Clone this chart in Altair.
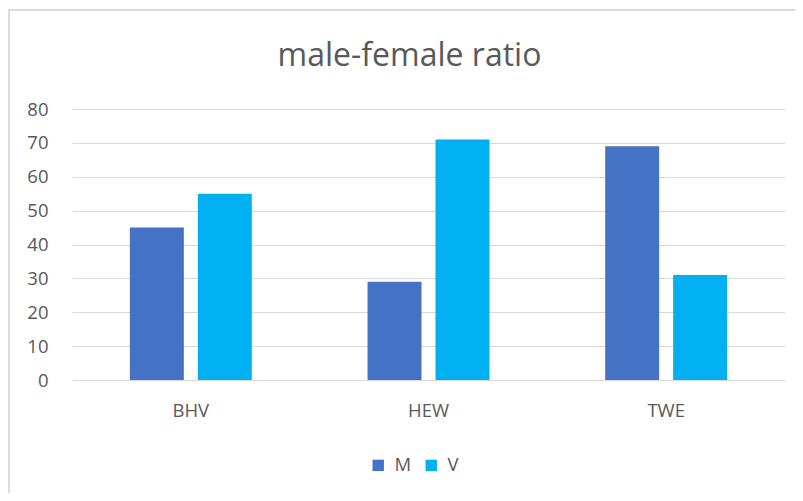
import altair as alt
import pandas as pd

categories = ["BHV", "HEW", "TWE"]
series = ["M", "V"]
m_values = [45, 29, 69]
v_values = [55, 71, 31]
y_ticks = [0, 10, 20, 30, 40, 50, 60, 70, 80]
colors = ["#4472C4", "#00B0F0"]

rows = []
for c, m, v in zip(categories, m_values, v_values):
    rows.append({"cat": c, "series": "M", "value": m})
    rows.append({"cat": c, "series": "V", "value": v})
df = pd.DataFrame(rows)

FONT = "Open Sans"
TXT = "#595959"
FS = 18.5

bars = alt.Chart(df).mark_bar().encode(
    x=alt.X("cat:N", sort=categories,
            scale=alt.Scale(paddingInner=0.487, paddingOuter=0.2435),
            axis=alt.Axis(title=None, labelAngle=0, ticks=False, domain=False,
                          labelPadding=21, labelFontSize=FS, labelColor=TXT,
                          labelFont=FONT, grid=False)),
    xOffset=alt.XOffset("series:N", sort=series,
                        scale=alt.Scale(paddingInner=0.206, paddingOuter=0)),
    y=alt.Y("value:Q", scale=alt.Scale(domain=[0, 80], nice=False),
            axis=alt.Axis(title=None, values=y_ticks, ticks=False, domain=False,
                          labelPadding=24, labelFontSize=FS, labelColor=TXT,
                          labelFont=FONT, gridColor="#D9D9D9", gridWidth=1.2)),
    color=alt.Color("series:N", sort=series,
                    scale=alt.Scale(domain=series, range=colors),
                    legend=alt.Legend(title=None, orient="none", direction="horizontal",
                                      legendX=297, legendY=347, symbolType="square",
                                      symbolSize=130, symbolStrokeWidth=0,
                                      labelFontSize=FS, labelColor=TXT, labelFont=FONT,
                                      columnPadding=10, labelOffset=7)),
)

border = alt.Chart(pd.DataFrame({"a": [0]})).mark_rect(
    fill=None, stroke="#D9D9D9", strokeWidth=1.8
).encode(
    x=alt.value(-63), x2=alt.value(760), y=alt.value(-99), y2=alt.value(430)
)

chart = alt.layer(border, bars).properties(
    width=713, height=271,
    background="white",
    autosize=alt.AutoSizeParams(type="none"),
    padding={"left": 64, "top": 101, "right": 10, "bottom": 113},
    title=alt.TitleParams("male-female ratio", fontSize=32, font=FONT, color=TXT,
                          fontWeight="normal", anchor="middle", frame="group",
                          baseline="alphabetic", dx=-19, offset=0, dy=89),
).configure_view(stroke="transparent", strokeWidth=0)

chart.save("out.html", embed_options={"renderer": "svg", "actions": False})
